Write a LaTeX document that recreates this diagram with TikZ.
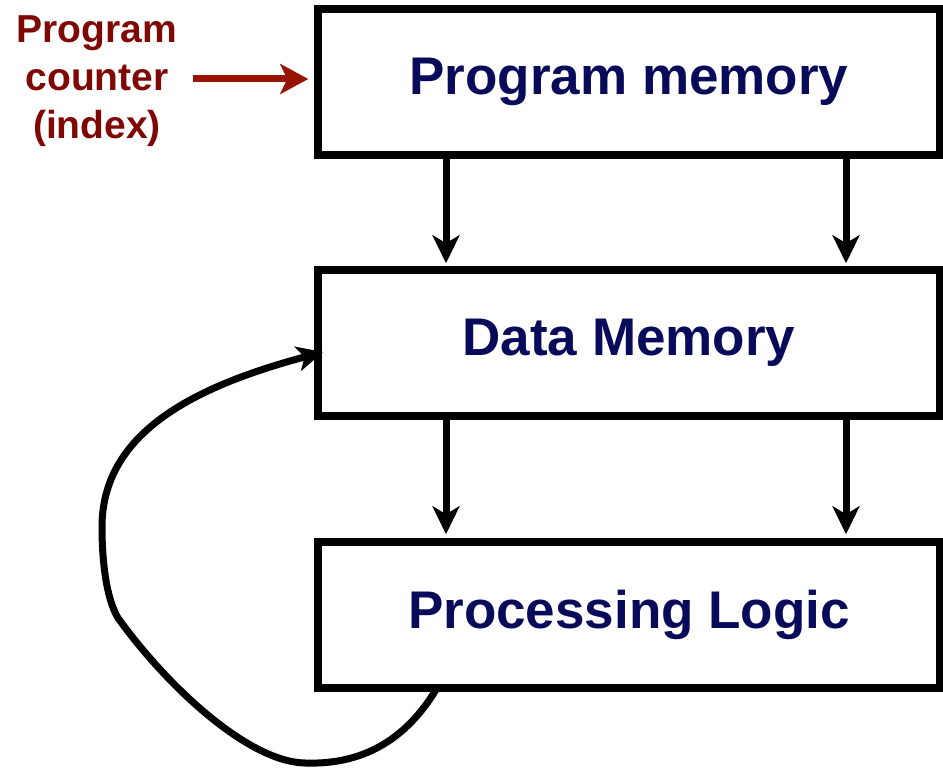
\documentclass[tikz,border=0pt]{standalone}
\usepackage{fontspec}
\setmainfont{Liberation Sans}
\usetikzlibrary{arrows.meta}
\definecolor{boxtext}{RGB}{8,10,90}
\definecolor{pclabel}{RGB}{128,8,4}
\definecolor{pcarrow}{RGB}{150,20,0}
\tikzset{
  unitbox/.style={draw=black, line width=7.5pt, minimum width=622pt, minimum height=146pt,
    inner sep=0pt, text=boxtext, font=\fontsize{53}{60}\selectfont\bfseries},
  flow/.style={line width=7pt, -{Stealth[length=28pt,width=27pt,inset=8pt]}},
  pclbl/.style={text=pclabel, align=center, font=\fontsize{39}{48}\selectfont\bfseries},
}
\begin{document}
\begin{tikzpicture}[x=1pt,y=-1pt]
\useasboundingbox (0,0) rectangle (943,768);

% the three units of the machine
\node[unitbox] (prog) at (629,82)  {Program memory};
\node[unitbox] (data) at (629,343) {Data Memory};
\node[unitbox] (logic) at (629,615) {Processing Logic};

% program counter label feeding the program memory
\node[pclbl] (pc) at (97,81) {Program\\counter\\(index)};
\coordinate (pcstart) at (193,79);
\draw[line width=7pt, pcarrow, -{Stealth[length=28pt,width=30pt,inset=7pt]}]
  (pcstart) -- ([xshift=-6pt]prog.west |- pcstart);

% downward flows between the units (tips stop just above the box below)
\draw[flow] ([xshift=-183pt]prog.south) -- ([xshift=-183pt,yshift=3pt]data.north);
\draw[flow] ([xshift=217pt]prog.south) -- ([xshift=217pt,yshift=3pt]data.north);
\draw[flow] ([xshift=-183pt]data.south) -- ([xshift=-183pt,yshift=4pt]logic.north);
\draw[flow] ([xshift=217pt]data.south) -- ([xshift=217pt,yshift=4pt]logic.north);

% feedback loop from the processing logic back to data memory
\coordinate (fbstart) at (437,688);
\coordinate (fbend) at (323,352);
\draw[line width=7pt, -{Stealth[length=26pt,width=25pt,inset=7pt]}]
  (fbstart) .. controls (405,742) and (360,765) .. (305,763)
            .. controls (250,762) and (170,690) .. (118,618)
            .. controls (106,598) and (102,560) .. (102,527)
            .. controls (102,430) and (200,385) .. (fbend);
\end{tikzpicture}
\end{document}
